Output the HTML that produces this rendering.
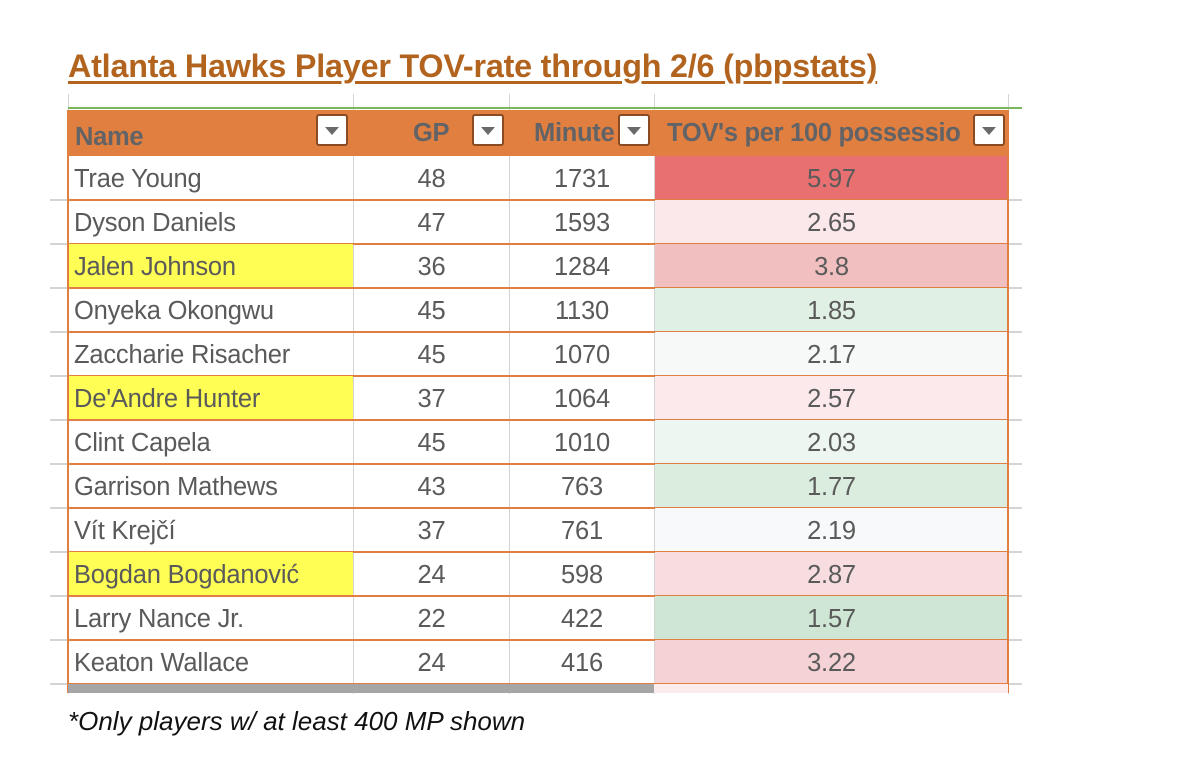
<!DOCTYPE html>
<html><head><style>
body{margin:0;width:1200px;height:774px;background:#fff;position:relative;font-family:"Liberation Sans",sans-serif;overflow:hidden}
.t{position:absolute;left:68px;top:48px;font-size:32.3px;font-weight:bold;color:#b2641f;text-decoration:underline;text-underline-offset:4px;letter-spacing:-0.2px;white-space:nowrap}
.g{position:absolute;background:#d4d4d4}
.c{position:absolute;height:44px;line-height:47px;font-size:25.5px;color:#5a5a5a;box-sizing:border-box;white-space:nowrap;letter-spacing:-0.2px}
.h{position:absolute;top:110px;height:46px;background:#e07f3f}
.ht{position:absolute;top:110px;height:46px;line-height:46px;font-size:25.5px;font-weight:bold;color:#626366;white-space:nowrap;letter-spacing:-0.3px}
.dd{position:absolute;top:114px;width:32px;height:32px;background:#fff;border:2px solid #8a4a22;border-radius:3px;box-sizing:border-box}
.dd:after{content:"";position:absolute;left:7px;top:11px;border-left:7px solid transparent;border-right:7px solid transparent;border-top:8px solid #6a6a6a}
.o{position:absolute;background:#e07f3f}
.f{position:absolute;left:68px;top:706px;font-size:26px;font-style:italic;color:#111;white-space:nowrap;letter-spacing:0}
</style></head><body>
<div class="t">Atlanta Hawks Player TOV-rate through 2/6 (pbpstats)</div>
<div class="g" style="left:68px;top:94px;width:1px;height:600px"></div>
<div class="g" style="left:353px;top:94px;width:1px;height:600px"></div>
<div class="g" style="left:509px;top:94px;width:1px;height:600px"></div>
<div class="g" style="left:654px;top:94px;width:1px;height:600px"></div>
<div class="g" style="left:1008px;top:94px;width:1px;height:600px"></div>
<div style="position:absolute;left:68px;top:107px;width:954px;height:2px;background:#7cb65a"></div>
<div class="h" style="left:68px;width:940px"></div>
<div class="ht" style="left:75px;top:114px">Name</div><div class="dd" style="left:316px"></div>
<div class="ht" style="left:413px">GP</div><div class="dd" style="left:472px"></div>
<div class="ht" style="left:534px">Minute</div><div class="dd" style="left:618px"></div>
<div class="ht" style="left:667px">TOV's per 100 possessio</div><div class="dd" style="left:973px"></div>
<div id="rows"></div>
<div style="position:absolute;left:68px;top:684px;width:586px;height:9px;background:#a6a6a6"></div>
<div style="position:absolute;left:654px;top:684px;width:354px;height:9px;background:#fcecee"></div>
<div class="f">*Only players w/ at least 400 MP shown</div>
<script>
var d=[["Trae Young",48,1731,"5.97","#e87070",0],["Dyson Daniels",47,1593,"2.65","#fbe8ea",0],["Jalen Johnson",36,1284,"3.8","#f2bfc0",1],["Onyeka Okongwu",45,1130,"1.85","#e1f0e5",0],["Zaccharie Risacher",45,1070,"2.17","#f6f9f8",0],["De'Andre Hunter",37,1064,"2.57","#fbe9ec",1],["Clint Capela",45,1010,"2.03","#edf6f0",0],["Garrison Mathews",43,763,"1.77","#daeddf",0],["Vít Krejčí",37,761,"2.19","#f8f9fa",0],["Bogdan Bogdanović",24,598,"2.87","#f8dde0",1],["Larry Nance Jr.",22,422,"1.57","#cfe6d4",0],["Keaton Wallace",24,416,"3.22","#f5d2d6",0]];
var h="";
d.forEach(function(r,i){var y=156+i*44;
h+='<div class="c" style="left:69px;top:'+y+'px;width:284px;padding-left:5px;background:'+(r[5]?'#fefe54':'transparent')+'">'+r[0]+'</div>';
h+='<div class="c" style="left:354px;top:'+y+'px;width:155px;text-align:center">'+r[1]+'</div>';
h+='<div class="c" style="left:510px;top:'+y+'px;width:144px;text-align:center">'+r[2]+'</div>';
h+='<div class="c" style="left:655px;top:'+y+'px;width:353px;text-align:center;background:'+r[4]+'">'+r[3]+'</div>';
h+='<div class="g" style="left:1008px;top:'+(y+43)+'px;width:14px;height:2px"></div>';
h+='<div class="g" style="left:50px;top:'+(y+43)+'px;width:18px;height:2px"></div>';
h+='<div class="o" style="left:68px;top:'+(y+43)+'px;width:940px;height:2px"></div>';
});
h+='<div class="o" style="left:67px;top:110px;width:2px;height:583px"></div><div class="o" style="left:1007px;top:110px;width:2px;height:583px"></div>';
document.getElementById("rows").innerHTML=h;
</script>
</body></html>
